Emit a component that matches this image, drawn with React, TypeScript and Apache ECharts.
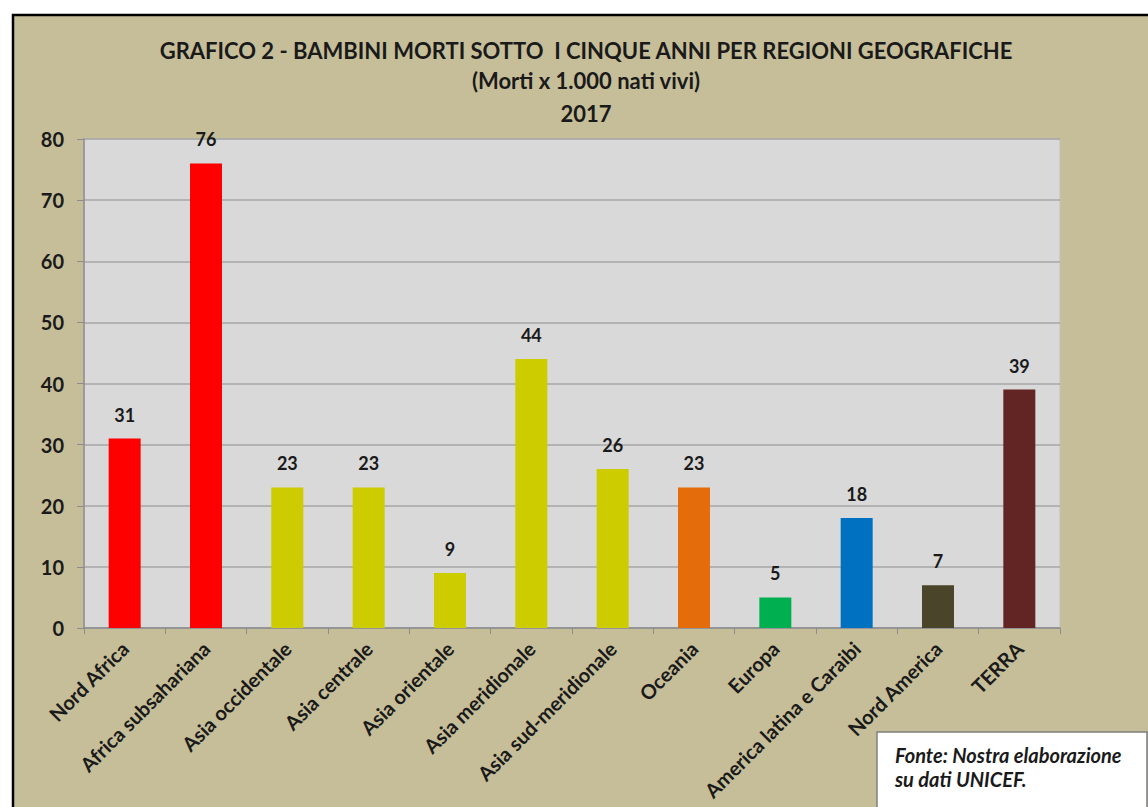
import React, { useEffect, useRef } from "react";
import * as echarts from "echarts";

const categories = [
  "Nord Africa",
  "Africa subsahariana",
  "Asia occidentale",
  "Asia centrale",
  "Asia orientale",
  "Asia meridionale",
  "Asia sud-meridionale",
  "Oceania",
  "Europa",
  "America latina e Caraibi",
  "Nord America",
  "TERRA",
];
const values = [31, 76, 23, 23, 9, 44, 26, 23, 5, 18, 7, 39];
const barColors = [
  "#FF0000",
  "#FF0000",
  "#CCCC00",
  "#CCCC00",
  "#CCCC00",
  "#CCCC00",
  "#CCCC00",
  "#E46C0A",
  "#00B050",
  "#0070C0",
  "#4A452A",
  "#632523",
];
const titleLines = [
  "GRAFICO 2 - BAMBINI MORTI SOTTO  I CINQUE ANNI PER REGIONI GEOGRAFICHE",
  "(Morti x 1.000 nati vivi)",
  "2017",
];
const sourceLines = ["Fonte: Nostra elaborazione", "su dati UNICEF."];

const FONT = "Lato, 'Open Sans', sans-serif";
const TEXT = "#1a1a1a";

export default function App() {
  const ref = useRef<HTMLDivElement>(null);
  useEffect(() => {
    if (!ref.current) return;
    const chart = echarts.init(ref.current, undefined, { renderer: "svg" });
    chart.setOption({
      animation: false,
      backgroundColor: "#ffffff",
      textStyle: { fontFamily: FONT },
      graphic: [
        {
          type: "rect",
          z: -10,
          shape: { x: 13, y: 15, width: 1145, height: 800 },
          style: { fill: "#C6BE99", stroke: "#000000", lineWidth: 2.5 },
        },
        {
          type: "rect",
          z: -5,
          shape: { x: 84, y: 139, width: 976, height: 489 },
          style: { fill: "#D9D9D9", stroke: "#BFBFBF", lineWidth: 1 },
        },
        ...titleLines.map((t, i) => ({
          type: "text",
          x: 586,
          y: [50, 80, 113][i],
          style: {
            text: t,
            fontFamily: FONT,
            fontWeight: "bold",
            fontSize: 22,
            fill: TEXT,
            align: "center",
            verticalAlign: "middle",
          },
        })),
        {
          type: "rect",
          z: 5,
          shape: { x: 877, y: 732, width: 270, height: 90 },
          style: { fill: "#ffffff", stroke: "#7F7F7F", lineWidth: 1.5 },
        },
        ...sourceLines.map((t, i) => ({
          type: "text",
          z: 6,
          x: 895,
          y: [755, 779][i],
          style: {
            text: t,
            fontFamily: FONT,
            fontWeight: "bold",
            fontStyle: "italic",
            fontSize: 20,
            fill: TEXT,
            align: "left",
            verticalAlign: "middle",
          },
        })),
      ],
      grid: { left: 84, top: 139, right: 88, bottom: 179, containLabel: false },
      xAxis: {
        type: "category",
        data: categories,
        axisLine: { show: true, lineStyle: { color: "#8C8C8C", width: 1.5 } },
        axisTick: { show: true, alignWithLabel: false, length: 6, lineStyle: { color: "#8C8C8C" } },
        axisLabel: {
          interval: 0,
          rotate: 45,
          margin: 17,
          fontFamily: FONT,
          fontWeight: "bold",
          fontSize: 20,
          color: TEXT,
        },
      },
      yAxis: {
        type: "value",
        min: 0,
        max: 80,
        interval: 10,
        axisLine: { show: true, lineStyle: { color: "#8C8C8C", width: 1.5 } },
        axisTick: { show: true, length: 7, lineStyle: { color: "#8C8C8C" } },
        splitLine: { show: true, lineStyle: { color: "#A6A6A6", width: 1.5 } },
        axisLabel: {
          margin: 20,
          fontFamily: FONT,
          fontWeight: "bold",
          fontSize: 20,
          color: TEXT,
        },
      },
      series: [
        {
          type: "bar",
          data: values.map((v, i) => ({ value: v, itemStyle: { color: barColors[i] } })),
          barWidth: 32,
          label: {
            show: true,
            position: "top",
            distance: 15,
            fontFamily: FONT,
            fontWeight: "bold",
            fontSize: 18,
            color: TEXT,
          },
        },
      ],
    });
    return () => chart.dispose();
  }, []);
  return (
    <div
      ref={ref}
      style={{ position: "fixed", left: 0, top: 0, width: 1148, height: 807 }}
    />
  );
}
